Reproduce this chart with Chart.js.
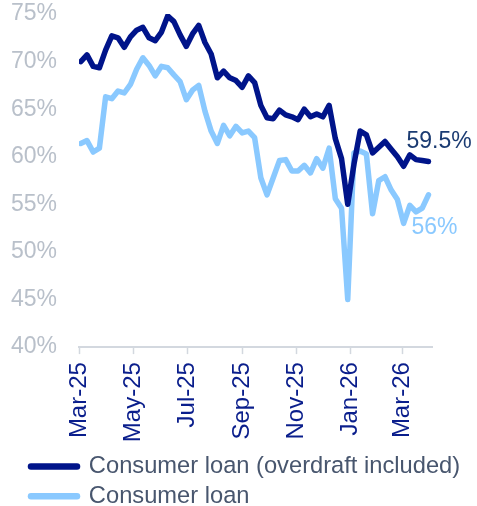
<!DOCTYPE html>
<html>
<head>
<meta charset="utf-8">
<script src="https://cdn.jsdelivr.net/npm/chart.js@4"></script>
<style>
  html, body { margin: 0; padding: 0; background: #ffffff; }
  #wrap { width: 477px; height: 506px; }
</style>
</head>
<body>
<div id="wrap"><canvas id="chart" width="477" height="506"></canvas></div>
<script>
// Weekly observations, first week starting 3 March 2025
const firstWeek = '2025-03-03';
const axisStart = '2025-03-01';
const axisEnd = '2026-04-03';

// Share of loans, % (weekly)
const consumerLoanOverdraft = [
  70.0, 70.7, 69.5, 69.35, 71.2, 72.7, 72.5, 71.5, 72.6, 73.3,
  73.6, 72.5, 72.2, 73.1, 74.8, 74.2, 72.8, 71.6, 72.9, 73.8,
  72.0, 70.8, 68.3, 69.0, 68.3, 68.0, 67.3, 68.5, 67.8, 65.4,
  64.1, 64.0, 64.9, 64.4, 64.2, 63.9, 65.0, 64.2, 64.5, 64.2,
  65.4, 61.9, 59.8, 55.0, 59.2, 62.7, 62.3, 60.4, 61.0, 61.6,
  60.8, 60.0, 59.0, 60.2, 59.7, 59.6, 59.5
];
const consumerLoan = [
  61.4, 61.7, 60.5, 60.9, 66.3, 66.1, 66.9, 66.7, 67.6, 69.2,
  70.4, 69.6, 68.5, 69.5, 69.35, 68.6, 67.9, 66.0, 67.0, 67.5,
  64.8, 62.7, 61.4, 63.3, 62.2, 63.2, 62.5, 62.7, 62.0, 57.8,
  56.0, 57.8, 59.6, 59.7, 58.5, 58.5, 59.1, 58.3, 59.8, 58.8,
  60.9, 55.6, 54.6, 45.0, 60.4, 60.6, 60.3, 54.0, 57.5, 57.9,
  56.5, 55.5, 53.0, 54.9, 54.2, 54.6, 56.0
];

const seriesNames = ['Consumer loan (overdraft included)', 'Consumer loan'];
const tickDates = ['2025-03-01', '2025-05-01', '2025-07-01', '2025-09-01', '2025-11-01', '2026-01-01', '2026-03-01'];
const tickLabels = ['Mar-25', 'May-25', 'Jul-25', 'Sep-25', 'Nov-25', 'Jan-26', 'Mar-26'];
const yMin = 40, yMax = 75, yStep = 5;

const DARK = '#00148A';
const LIGHT = '#8AC9FF';
const FONT = "'Liberation Sans', Arial, sans-serif";

// day offset from the start of the axis
function dayOf(dateStr) {
  return Math.round((Date.parse(dateStr) - Date.parse(axisStart)) / 864e5);
}
function toPoints(values) {
  const d0 = dayOf(firstWeek);
  return values.map((v, i) => ({ x: d0 + 7 * i, y: v }));
}

// value label next to the last point of each line
const endLabels = {
  id: 'endLabels',
  afterDatasetsDraw(chart) {
    const ctx = chart.ctx;
    const specs = [
      { ds: 0, color: '#1B3B72', dx: -22, dy: -20 },
      { ds: 1, color: LIGHT, dx: -17, dy: 33 }
    ];
    ctx.save();
    ctx.font = '23px ' + FONT;
    ctx.textAlign = 'left';
    ctx.textBaseline = 'middle';
    specs.forEach(s => {
      const meta = chart.getDatasetMeta(s.ds);
      const pts = meta.data;
      const last = pts[pts.length - 1];
      const vals = chart.data.datasets[s.ds].data;
      const v = vals[vals.length - 1].y;
      ctx.fillStyle = s.color;
      ctx.fillText(v + '%', last.x + s.dx, last.y + s.dy);
    });
    ctx.restore();
  }
};

// indent the legend block from the left edge
const legendIndent = {
  id: 'legendIndent',
  afterLayout(chart) {
    if (chart.legend) chart.legend.left = 25;
  }
};

new Chart(document.getElementById('chart'), {
  type: 'line',
  data: {
    datasets: [
      {
        label: seriesNames[0],
        data: toPoints(consumerLoanOverdraft),
        borderColor: DARK,
        backgroundColor: DARK,
        borderWidth: 5.5,
        borderCapStyle: 'round',
        borderJoinStyle: 'round',
        pointRadius: 0,
        tension: 0
      },
      {
        label: seriesNames[1],
        data: toPoints(consumerLoan),
        borderColor: LIGHT,
        backgroundColor: LIGHT,
        borderWidth: 5.5,
        borderCapStyle: 'round',
        borderJoinStyle: 'round',
        pointRadius: 0,
        tension: 0
      }
    ]
  },
  options: {
    responsive: false,
    animation: false,
    layout: { padding: { left: 0, right: 0, top: 14, bottom: -12 } },
    plugins: {
      tooltip: { enabled: false },
      legend: {
        position: 'bottom',
        align: 'start',
        labels: {
          usePointStyle: true,
          pointStyle: 'line',
          pointStyleWidth: 46,
          padding: 6,
          color: '#48566E',
          font: { family: FONT, size: 23.7 },
          generateLabels(chart) {
            return Chart.defaults.plugins.legend.labels.generateLabels(chart)
              .map(item => Object.assign(item, { lineWidth: 6.5, lineCap: 'round' }));
          }
        }
      }
    },
    scales: {
      x: {
        type: 'linear',
        min: 0,
        max: dayOf(axisEnd),
        afterBuildTicks(scale) {
          scale.ticks = tickDates.map(d => ({ value: dayOf(d) }));
        },
        afterFit(scale) {
          scale.height = 101.5;
          scale.paddingLeft = 0;
          scale.paddingRight = 0;
        },
        ticks: {
          autoSkip: false,
          minRotation: 90,
          maxRotation: 90,
          padding: 8,
          color: '#0A1E8C',
          font: { family: FONT, size: 24 },
          callback(value) {
            const i = tickDates.findIndex(d => dayOf(d) === value);
            return i >= 0 ? tickLabels[i] : '';
          }
        },
        grid: {
          drawOnChartArea: false,
          drawTicks: true,
          tickLength: 7,
          tickWidth: 1.5,
          tickColor: '#D3D8DF'
        },
        border: { display: true, color: '#D3D8DF', width: 2 }
      },
      y: {
        min: yMin,
        max: yMax,
        afterFit(scale) {
          scale.width = 79;
          scale.paddingTop = 0;
          scale.paddingBottom = 0;
        },
        ticks: {
          stepSize: yStep,
          padding: 22,
          color: '#B9C0CA',
          font: { family: FONT, size: 23 },
          callback: v => v + '%'
        },
        grid: { display: false, drawTicks: false },
        border: { display: false }
      },
      // empty margin on the right that keeps room for the value labels
      yRight: {
        position: 'right',
        afterFit(scale) {
          scale.width = 45;
          scale.paddingTop = 0;
          scale.paddingBottom = 0;
        },
        ticks: { display: false },
        grid: { display: false, drawTicks: false },
        border: { display: false }
      }
    }
  },
  plugins: [endLabels, legendIndent]
});
</script>
</body>
</html>
